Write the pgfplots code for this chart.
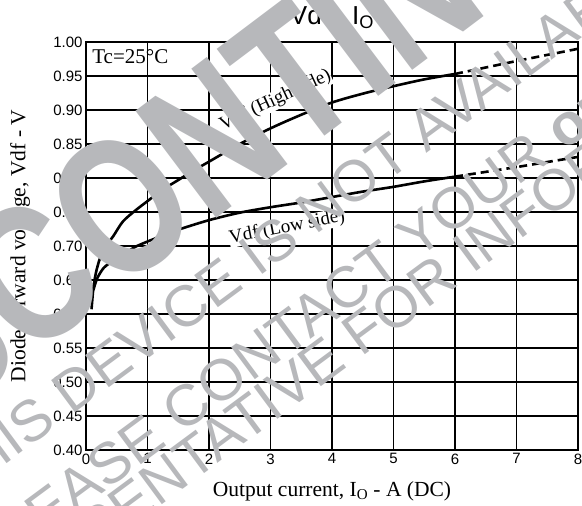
\documentclass[border=0pt]{standalone}
\usepackage{fontspec}
\setmainfont{Liberation Serif}
\setsansfont{Liberation Sans}
\usepackage{pgfplots}
\pgfplotsset{compat=1.18}
\definecolor{wm}{RGB}{183,184,187}

% forward voltage, V vs A
\pgfplotstableread{
x y
0.09 0.607
0.12 0.638
0.16 0.660
0.22 0.680
0.30 0.697
0.44 0.714
0.60 0.736
0.80 0.752
1.00 0.766
1.25 0.783
1.50 0.797
1.75 0.811
2.00 0.824
2.50 0.850
3.00 0.873
3.50 0.893
4.00 0.911
4.50 0.924
5.00 0.935
5.50 0.945
6.00 0.953
}\highside
\pgfplotstableread{
x y
6.00 0.953
7.00 0.972
8.00 0.990
}\highext
\pgfplotstableread{
x y
0.12 0.635
0.18 0.652
0.29 0.668
0.44 0.678
0.65 0.690
0.83 0.700
1.26 0.716
1.50 0.724
2.00 0.738
2.50 0.749
3.00 0.757
3.50 0.764
4.00 0.772
4.50 0.780
5.00 0.787
5.50 0.795
6.00 0.802
}\lowside
\pgfplotstableread{
x y
6.00 0.802
7.00 0.816
8.00 0.831
}\lowext

\begin{document}
\begin{tikzpicture}
\begin{axis}[
    scale only axis,
    width=492pt, height=408pt,
    xmin=0, xmax=8, ymin=0.40, ymax=1.00,
    xtick={0,1,2,3,4,5,6,7,8},
    xticklabels={0,1,2,3,4,5,6,7,8},
    ytick={0.40,0.45,0.50,0.55,0.60,0.65,0.70,0.75,0.80,0.85,0.90,0.95,1.00},
    yticklabels={0.40,0.45,0.50,0.55,0.60,0.65,0.70,0.75,0.80,0.85,0.90,0.95,1.00},
    ticklabel style={font=\fontsize{15}{15}\selectfont\sffamily},
    major tick length=0pt,
    grid=major,
    grid style={black, line width=1.1pt},
    axis line style={black, line width=1.5pt},
    xlabel={Output current, I\textsubscript{O} - A (DC)},
    ylabel={Diode forward voltage, Vdf - V},
    label style={font=\fontsize{21.5}{21.5}\selectfont},
    xlabel style={at={(axis description cs:0.5,-0.113)}, anchor=base},
    ylabel style={at={(axis description cs:-0.134,0.5)}, anchor=center},
    title={Vdf - I\textsubscript{O}},
    title style={at={(0.5,1.029)}, anchor=base, font=\fontsize{26}{26}\selectfont\sffamily},
]
\node[anchor=base west, inner sep=0, font=\fontsize{21}{21}\selectfont]
    at (axis cs:0.10,0.969) {Tc=25°C};
\node[rotate=25, fill=white, inner sep=0.5pt, font=\fontsize{19}{19}\selectfont]
    at (axis cs:3.08,0.914) {Vdf (High side)};
\node[rotate=11, fill=white, inner sep=0.5pt, font=\fontsize{19}{19}\selectfont]
    at (axis cs:3.27,0.727) {Vdf (Low side)};
\addplot[black, line width=2.6pt, smooth] table {\highside};
\addplot[black, line width=2.6pt, dash pattern=on 8pt off 5pt] table {\highext};
\addplot[black, line width=2.6pt, smooth] table {\lowside};
\addplot[black, line width=2.6pt, dash pattern=on 8pt off 5pt] table {\lowext};
\end{axis}
% watermark over the chart
\node[rotate=37, xscale=0.78, text=wm, inner sep=0, font=\fontsize{195}{195}\selectfont\sffamily\bfseries]
    at (160pt,338pt) {DISCONTINUED};
\node[rotate=36.5, text=wm, inner sep=0, font=\fontsize{58}{58}\selectfont\sffamily]
    at (214pt,228pt) {THIS DEVICE IS NOT AVAILABLE};
\node[rotate=36.5, text=wm, inner sep=0, font=\fontsize{58}{58}\selectfont\sffamily]
    at (259pt,162pt) {PLEASE CONTACT YOUR \textbf{onsemi}};
\node[rotate=36.5, text=wm, inner sep=0, font=\fontsize{58}{58}\selectfont\sffamily]
    at (268pt,112pt) {REPRESENTATIVE FOR INFORMATION};
\pgfresetboundingbox
\path[use as bounding box] (-86pt,-56pt) rectangle (496pt,450pt);
\end{tikzpicture}
\end{document}
